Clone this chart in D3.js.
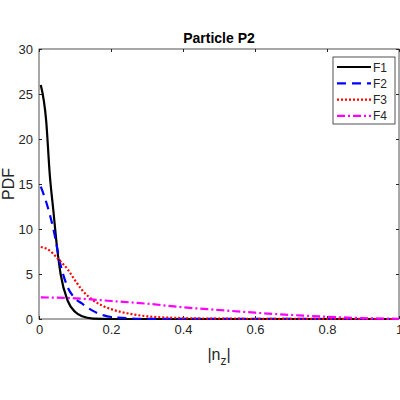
<!DOCTYPE html>
<html><head><meta charset="utf-8">
<script src="https://cdn.jsdelivr.net/npm/d3@7"></script>
<style>body{margin:0;background:#fff;font-family:Arial,"Liberation Sans",sans-serif;}</style>
</head><body><svg id="c" width="400" height="400"></svg>
<script>
var names = ['F1', 'F2', 'F3', 'F4'];
var colors = ['#000000', '#0000ff', '#ff0000', '#ff00ff'];
var dashes = ['', '9,6', '2,2', '8,3,2,3'];
var xTicks = [0, 0.2, 0.4, 0.6, 0.8, 1];
var yTicks = [0, 5, 10, 15, 20, 25, 30];
var f1x = [0.005, 0.02, 0.03, 0.04, 0.05, 0.06, 0.08, 0.1, 0.12, 0.15, 0.2, 1];
var f1y = [26, 22, 16, 12, 8, 5, 2, 0.8, 0.3, 0.05, 0, 0];
var f2x = [0.005, 0.02, 0.04, 0.06, 0.08, 0.1, 0.12, 0.15, 0.18, 0.22, 0.3, 1];
var f2y = [14.7, 13, 10, 6, 3.5, 2.3, 1.7, 0.9, 0.4, 0.15, 0.02, 0];
var f3x = [0.005, 0.03, 0.05, 0.08, 0.1, 0.12, 0.15, 0.2, 0.25, 0.3, 0.4, 0.5, 1];
var f3y = [8, 7.6, 6.8, 5.5, 4.3, 3.2, 2.1, 1.1, 0.6, 0.3, 0.1, 0.04, 0];
var f4x = [0.005, 0.1, 0.2, 0.3, 0.4, 0.5, 0.6, 0.7, 0.8, 0.9, 1];
var f4y = [2.4, 2.3, 2.0, 1.7, 1.3, 1.0, 0.7, 0.45, 0.25, 0.1, 0.02];
var seriesX = [f1x, f2x, f3x, f4x];
var seriesY = [f1y, f2y, f3y, f4y];

var svg = d3.select('#c');
var L = 39, R = 399, T = 49, B = 319;
var x = d3.scaleLinear().domain([0, 1]).range([L, R]);
var y = d3.scaleLinear().domain([0, 30]).range([B, T]);

svg.append('rect').attr('x', L).attr('y', T).attr('width', R - L).attr('height', B - T)
    .attr('fill', '#fff').attr('stroke', '#262626').attr('stroke-width', 0.8);

var xa = svg.append('g').attr('transform', 'translate(0,' + B + ')')
    .call(d3.axisBottom(x).tickValues(xTicks).tickSize(-3).tickPadding(6).tickFormat(d3.format('')));
var xt = svg.append('g').attr('transform', 'translate(0,' + T + ')')
    .call(d3.axisTop(x).tickValues(xTicks).tickSize(-3).tickFormat(''));
var ya = svg.append('g').attr('transform', 'translate(' + L + ',0)')
    .call(d3.axisLeft(y).tickValues(yTicks).tickSize(-3).tickPadding(6));
var yr = svg.append('g').attr('transform', 'translate(' + R + ',0)')
    .call(d3.axisRight(y).tickValues(yTicks).tickSize(-3).tickFormat(''));
[xa, xt, ya, yr].forEach(function(a) {
  a.select('.domain').remove();
  a.selectAll('line').attr('stroke', '#262626');
  a.selectAll('text').attr('fill', '#262626').style('font-size', '13px')
      .style('font-family', 'Arial,"Liberation Sans",sans-serif');
});

var line = d3.line().x(d => x(d[0])).y(d => y(d[1])).curve(d3.curveMonotoneX);
names.forEach(function(n, i) {
  svg.append('path').datum(d3.zip(seriesX[i], seriesY[i])).attr('d', line)
      .attr('fill', 'none').attr('stroke', colors[i]).attr('stroke-width', 2.2)
      .attr('stroke-dasharray', dashes[i]);
});

// legend
var lg = svg.append('g');
lg.append('rect').attr('x', 333).attr('y', 57).attr('width', 62).attr('height', 67)
    .attr('fill', '#fff').attr('stroke', '#262626').attr('stroke-width', 0.8);
names.forEach(function(n, i) {
  var yy = 67 + i * 16.3;
  lg.append('line').attr('x1', 337).attr('x2', 371).attr('y1', yy).attr('y2', yy)
      .attr('stroke', colors[i]).attr('stroke-width', 2.2).attr('stroke-dasharray', dashes[i]);
  lg.append('text').attr('x', 373).attr('y', yy + 4.5).text(n)
      .style('font-size', '12px').attr('fill', '#262626');
});

svg.append('text').attr('x', (L + R) / 2).attr('y', 43).attr('text-anchor', 'middle')
    .style('font-size', '14px').style('font-weight', 'bold').attr('fill', '#000').text('Particle P2');
svg.append('text').attr('transform', 'translate(14,' + (T + B) / 2 + ') rotate(-90)')
    .attr('text-anchor', 'middle').style('font-size', '16px').attr('fill', '#262626').text('PDF');
var xl = svg.append('text').attr('x', (L + R) / 2).attr('y', 360).attr('text-anchor', 'middle')
    .style('font-size', '16px').attr('fill', '#262626');
xl.append('tspan').text('|n');
xl.append('tspan').attr('dy', 5).style('font-size', '12px').text('z');
xl.append('tspan').attr('dy', -5).text('|');
</script></body></html>
